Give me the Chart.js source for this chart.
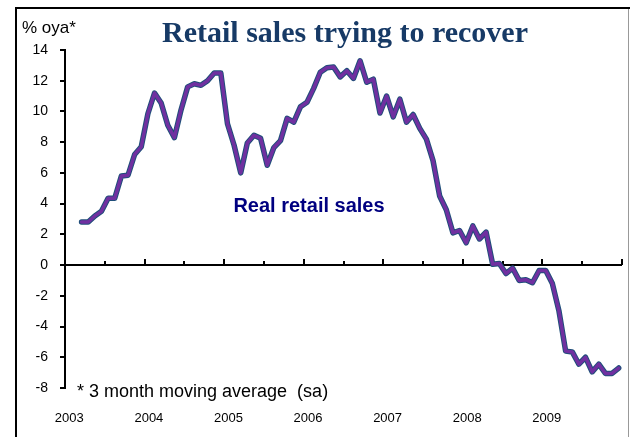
<!DOCTYPE html>
<html>
<head>
<meta charset="utf-8">
<title>Retail sales trying to recover</title>
<script src="https://cdn.jsdelivr.net/npm/chart.js@4.4.0/dist/chart.umd.min.js"></script>
<style>
  body { margin: 0; background: #fff; }
  #wrap { width: 630px; height: 437px; }
</style>
</head>
<body>
<div id="wrap"><canvas id="canvas1" width="630" height="437"></canvas></div>
<script>
const years = ['2003', '2004', '2005', '2006', '2007', '2008', '2009'];

// Real retail sales, % oya, 3 month moving average, Jan..Dec
const sales2003 = [null, null, 2.8, 2.8, 3.2, 3.5, 4.35, 4.35, 5.8, 5.85, 7.2, 7.7];
const sales2004 = [9.85, 11.2, 10.55, 9.1, 8.3, 10.1, 11.6, 11.8, 11.7, 12.0, 12.5, 12.5];
const sales2005 = [9.2, 7.8, 6.0, 7.95, 8.45, 8.25, 6.5, 7.65, 8.1, 9.55, 9.3, 10.3];
const sales2006 = [10.6, 11.5, 12.55, 12.85, 12.9, 12.25, 12.65, 12.15, 13.3, 11.9, 12.1, 9.9];
const sales2007 = [11.0, 9.65, 10.8, 9.3, 9.8, 8.9, 8.2, 6.8, 4.5, 3.6, 2.1, 2.25];
const sales2008 = [1.45, 2.55, 1.7, 2.15, 0.05, 0.1, -0.55, -0.2, -1.0, -0.95, -1.15, -0.35];
const sales2009 = [-0.35, -1.2, -3.0, -5.6, -5.65, -6.45, -6.0, -6.95, -6.45, -7.05, -7.05, -6.7];

const yMin = -8, yMax = 14, yStep = 2;

const titleText = 'Retail sales trying to recover';
const unitText = '% oya*';
const seriesText = 'Real retail sales';
const noteText = '* 3 month moving average  (sa)';

const months = [];
years.forEach(function (y) {
    for (let m = 1; m <= 12; m++) months.push(y + '-' + m);
});
const sales = [].concat(sales2003, sales2004, sales2005, sales2006, sales2007, sales2008, sales2009);

const SANS = '"Liberation Sans", Arial, sans-serif';
const SERIF = '"Liberation Serif", "Times New Roman", serif';

const decor = {
    id: 'decor',
    beforeDraw(chart) {
        const ctx = chart.ctx;
        ctx.save();
        ctx.fillStyle = '#fff';
        ctx.fillRect(0, 0, chart.width, chart.height);
        // frame
        ctx.fillStyle = '#000';
        ctx.fillRect(15, 7, chart.width - 15, 2);
        ctx.fillRect(15, 7, 2, chart.height - 7);
        ctx.fillStyle = '#999';
        ctx.fillRect(628, 9, 1, chart.height - 9);
        ctx.restore();
    },
    beforeDatasetsDraw(chart) {
        const ctx = chart.ctx;
        const x = chart.scales.x, y = chart.scales.y;
        const y0 = Math.round(y.getPixelForValue(0));
        const w = (x.right - x.left) / months.length;
        ctx.save();
        ctx.fillStyle = '#000';
        ctx.fillRect(x.left, y0 - 1, x.right - x.left, 2);
        for (let i = 6; i <= months.length; i += 6) {
            const px = Math.round(i < months.length ? x.getPixelForValue(i) - w / 2 : x.right);
            const len = i % 12 === 0 ? 6 : 4;
            ctx.fillRect(px - 1, y0 - len, 2, len);
        }
        ctx.restore();
    },
    afterDraw(chart) {
        const ctx = chart.ctx;
        ctx.save();
        ctx.textBaseline = 'alphabetic';
        ctx.fillStyle = '#173a66';
        ctx.textAlign = 'center';
        ctx.font = 'bold 30px ' + SERIF;
        ctx.fillText(titleText, 345, 42);

        ctx.fillStyle = '#000';
        ctx.textAlign = 'left';
        ctx.font = '17px ' + SANS;
        ctx.fillText(unitText, 22, 33);

        ctx.font = '18px ' + SANS;
        ctx.fillText(noteText, 77, 397);

        ctx.fillStyle = '#000080';
        ctx.textAlign = 'center';
        ctx.font = 'bold 20px ' + SANS;
        ctx.fillText(seriesText, 309, 212);
        ctx.restore();
    }
};

const data = {
    labels: months,
    datasets: [
        {
            label: seriesText,
            data: sales,
            borderColor: '#7030a0',
            borderWidth: 3.5,
            order: 0
        },
        {
            label: seriesText + ' outline',
            data: sales,
            borderColor: '#1f4e79',
            borderWidth: 5.5,
            order: 1
        }
    ]
};

const config = {
    type: 'line',
    data: data,
    options: {
        responsive: false,
        animation: false,
        layout: { padding: { left: 16, top: 50, right: 8, bottom: 0 } },
        elements: {
            point: { radius: 0, hoverRadius: 0 },
            line: { tension: 0, fill: false, borderJoinStyle: 'round', borderCapStyle: 'round' }
        },
        plugins: {
            legend: { display: false },
            tooltip: { enabled: false },
            title: { display: false }
        },
        scales: {
            x: {
                type: 'category',
                offset: true,
                grid: { display: false, drawTicks: false, tickLength: 0 },
                border: { display: false },
                ticks: {
                    autoSkip: false,
                    maxRotation: 0,
                    padding: 23,
                    labelOffset: 1,
                    color: '#000',
                    font: { family: SANS, size: 13 },
                    callback: function (val, i) {
                        return i % 12 === 0 ? years[i / 12] : '';
                    }
                },
                afterFit: function (s) {
                    s.height = 49;
                    s.paddingLeft = 0;
                    s.paddingRight = 0;
                }
            },
            y: {
                min: yMin,
                max: yMax,
                grid: { drawOnChartArea: false, drawTicks: true, tickLength: 5, color: '#000', lineWidth: 2 },
                border: { display: true, color: '#000', width: 2 },
                ticks: {
                    stepSize: yStep,
                    padding: 12,
                    color: '#000',
                    font: { family: SANS, size: 14 }
                },
                afterFit: function (s) { s.width = 49; }
            }
        }
    },
    plugins: [decor]
};

const chart = new Chart(document.getElementById('canvas1'), config);
</script>
</body>
</html>
